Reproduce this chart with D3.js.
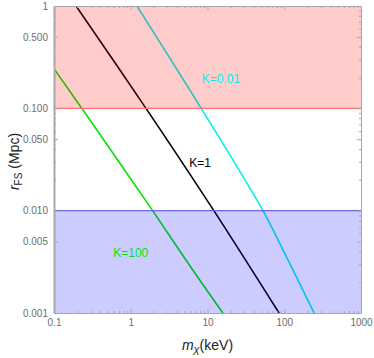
<!DOCTYPE html>
<html>
<head>
<meta charset="utf-8">
<script src="https://cdn.jsdelivr.net/npm/d3@7"></script>
<style>
body { margin: 0; background: #fff; }
text { font-family: "Liberation Sans", Arial, sans-serif; }
</style>
</head>
<body>
<svg id="chart" width="374" height="358"></svg>
<script>
// values: mass in keV, r_FS in Mpc
var massK100 = [0.1, 0.230, 1.93, 5.92, 15.85];
var rK100 = [0.244, 0.1, 0.01, 0.00288, 0.001];
var massK1 = [0.194, 1.58, 12.1, 85.5];
var rK1 = [1, 0.1, 0.01, 0.001];
var massK001 = [1.205, 8.27, 52.8, 97, 245];
var rK001 = [1, 0.1, 0.01, 0.0041, 0.001];

var xTicks = [0.1, 1, 10, 100, 1000];
var xTickLabels = ["0.1", "1", "10", "100", "1000"];
var yTicks = [0.001, 0.005, 0.01, 0.05, 0.1, 0.5, 1];
var yTickLabels = ["0.001", "0.005", "0.010", "0.050", "0.100", "0.500", "1"];

var redBand = [0.1, 1];
var blueBand = [0.001, 0.01];

var series = [
	{ name: "K=100", mass: massK100, r: rK100, color: "#00e600", labelAt: [1.0, 0.0039] },
	{ name: "K=1", mass: massK1, r: rK1, color: "#000000", labelAt: [8.0, 0.0294] },
	{ name: "K=0.01", mass: massK001, r: rK001, color: "#00f0f0", labelAt: [15.0, 0.193] }
];

var svg = d3.select("#chart");
var mLeft = 54, mTop = 6, mRight = 13, mBottom = 45;
var width = 374 - mLeft - mRight;
var height = 358 - mTop - mBottom;

var g = svg.append("g").attr("transform", "translate(" + mLeft + "," + mTop + ")");

var xScale = d3.scaleLog().domain([0.1, 1000]).range([0, width]);
var yScale = d3.scaleLog().domain([0.001, 1]).range([height, 0]);

g.append("clipPath").attr("id", "clip")
	.append("rect").attr("width", width).attr("height", height);

var linePath = d3.line()
	.x(function (d) { return xScale(d[0]); })
	.y(function (d) { return yScale(d[1]); })
	.curve(d3.curveCatmullRom.alpha(0.5));

var plot = g.append("g").attr("clip-path", "url(#clip)");

series.forEach(function (s) {
	var pts = s.mass.map(function (m, i) { return [m, s.r[i]]; });
	plot.append("path")
		.attr("d", linePath(pts))
		.attr("fill", "none")
		.attr("stroke", s.color)
		.attr("stroke-width", 1.6);
});

// shaded regions go on top of the curves, like the original
plot.append("rect")
	.attr("x", 0).attr("width", width)
	.attr("y", yScale(redBand[1]))
	.attr("height", yScale(redBand[0]) - yScale(redBand[1]))
	.attr("fill", "#ff0000").attr("fill-opacity", 0.2);
plot.append("line")
	.attr("x1", 0).attr("x2", width)
	.attr("y1", yScale(redBand[0])).attr("y2", yScale(redBand[0]))
	.attr("stroke", "#ff7070").attr("stroke-width", 1.2);

plot.append("rect")
	.attr("x", 0).attr("width", width)
	.attr("y", yScale(blueBand[1]))
	.attr("height", yScale(blueBand[0]) - yScale(blueBand[1]))
	.attr("fill", "#0000ff").attr("fill-opacity", 0.2);
plot.append("line")
	.attr("x1", 0).attr("x2", width)
	.attr("y1", yScale(blueBand[1])).attr("y2", yScale(blueBand[1]))
	.attr("stroke", "#6a6ad8").attr("stroke-width", 1.2);

// curve labels
series.forEach(function (s) {
	g.append("text")
		.attr("x", xScale(s.labelAt[0]))
		.attr("y", yScale(s.labelAt[1]))
		.attr("dy", "0.35em")
		.attr("text-anchor", "middle")
		.attr("font-size", 12)
		.attr("fill", s.color)
		.text(s.name);
});

// minor ticks
function minorTicks(dom) {
	var out = [];
	for (var e = Math.round(Math.log10(dom[0])); e < Math.round(Math.log10(dom[1])); e++) {
		for (var k = 2; k <= 9; k++) {
			if (k !== 5) out.push(k * Math.pow(10, e));
		}
	}
	return out;
}
var xMinor = minorTicks(xScale.domain()).concat([0.5, 5, 50, 500]);
var yMinor = minorTicks(yScale.domain());

var frameColor = "#a8a8a8";
var labelColor = "#6e6e6e";

function styleAxis(sel) {
	sel.select(".domain").attr("stroke", frameColor).attr("fill", "none");
	sel.selectAll("line").attr("stroke", frameColor);
	sel.selectAll("text").attr("fill", labelColor).attr("font-size", 10)
		.attr("font-family", "Liberation Sans, Arial, sans-serif");
}

// bottom
var xAxis = d3.axisBottom(xScale).tickValues(xTicks)
	.tickFormat(function (d, i) { return xTickLabels[i]; })
	.tickSizeInner(-4).tickSizeOuter(0).tickPadding(6);
g.append("g").attr("transform", "translate(0," + height + ")").call(xAxis).call(styleAxis);
g.append("g").attr("transform", "translate(0," + height + ")")
	.call(d3.axisBottom(xScale).tickValues(xMinor).tickFormat("").tickSizeInner(-2).tickSizeOuter(0))
	.call(styleAxis).select(".domain").remove();

// top
g.append("g")
	.call(d3.axisTop(xScale).tickValues(xTicks).tickFormat("").tickSizeInner(-4).tickSizeOuter(0))
	.call(styleAxis);
g.append("g")
	.call(d3.axisTop(xScale).tickValues(xMinor).tickFormat("").tickSizeInner(-2).tickSizeOuter(0))
	.call(styleAxis).select(".domain").remove();

// left
var yAxis = d3.axisLeft(yScale).tickValues(yTicks)
	.tickFormat(function (d, i) { return yTickLabels[i]; })
	.tickSizeInner(-4).tickSizeOuter(0).tickPadding(6);
g.append("g").call(yAxis).call(styleAxis)
	.select(".domain").attr("stroke-width", 2);
g.append("g")
	.call(d3.axisLeft(yScale).tickValues(yMinor).tickFormat("").tickSizeInner(-2).tickSizeOuter(0))
	.call(styleAxis).select(".domain").remove();

// right
g.append("g").attr("transform", "translate(" + width + ",0)")
	.call(d3.axisRight(yScale).tickValues(yTicks).tickFormat("").tickSizeInner(-4).tickSizeOuter(0))
	.call(styleAxis);
g.append("g").attr("transform", "translate(" + width + ",0)")
	.call(d3.axisRight(yScale).tickValues(yMinor).tickFormat("").tickSizeInner(-2).tickSizeOuter(0))
	.call(styleAxis).select(".domain").remove();

// axis titles
var xt = svg.append("text")
	.attr("x", mLeft + width / 2)
	.attr("y", 350)
	.attr("text-anchor", "middle")
	.attr("font-size", 14)
	.attr("fill", "#222");
xt.append("tspan").attr("font-style", "italic").text("m");
xt.append("tspan").attr("font-style", "italic").attr("font-size", 11).attr("dy", 3).text("\u03c7");
xt.append("tspan").attr("dy", -3).text("(keV)");

var yt = svg.append("text")
	.attr("transform", "translate(19," + (mTop + height / 2 + 2) + ") rotate(-90)")
	.attr("text-anchor", "middle")
	.attr("font-size", 14)
	.attr("fill", "#222");
yt.append("tspan").attr("font-style", "italic").text("r");
yt.append("tspan").attr("font-size", 10).attr("dy", 3).text("FS");
yt.append("tspan").attr("dy", -3).text(" (Mpc)");
</script>
</body>
</html>
